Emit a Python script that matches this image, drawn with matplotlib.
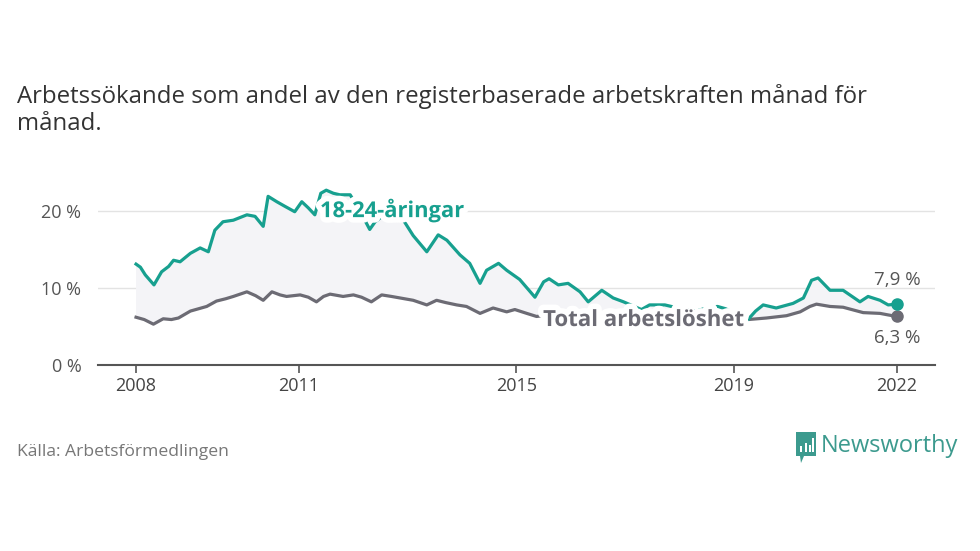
import numpy as np
import matplotlib.pyplot as plt
import matplotlib.patheffects as pe
from matplotlib.patches import Polygon, Rectangle

plt.rcParams['font.family'] = ['Open Sans', 'DejaVu Sans']

# youth (18-24) unemployment share, decimal year / percent
youth_x = [2008.00, 2008.08, 2008.17, 2008.33, 2008.47, 2008.60, 2008.69, 2008.81,
           2009.00, 2009.18, 2009.33, 2009.45, 2009.60, 2009.79, 2010.04, 2010.19,
           2010.34, 2010.43, 2010.59, 2010.74, 2010.92, 2011.05, 2011.17, 2011.29,
           2011.40, 2011.50, 2011.63, 2011.75, 2011.94, 2012.08, 2012.21, 2012.30,
           2012.40, 2012.55, 2012.70, 2012.92, 2013.10, 2013.35, 2013.56, 2013.72,
           2013.96, 2014.14, 2014.33, 2014.45, 2014.67, 2014.82, 2015.06, 2015.34,
           2015.50, 2015.60, 2015.77, 2015.95, 2016.17, 2016.32, 2016.57, 2016.78,
           2016.97, 2017.30, 2017.45, 2017.73, 2017.85, 2018.05, 2018.30, 2018.55,
           2018.70, 2018.85, 2019.05, 2019.26, 2019.40, 2019.54, 2019.78, 2020.09,
           2020.28, 2020.43, 2020.55, 2020.77, 2021.01, 2021.32, 2021.47, 2021.69,
           2021.84, 2022.00]
youth_y = [13.1, 12.7, 11.7, 10.4, 12.1, 12.8, 13.6, 13.4,
           14.5, 15.2, 14.7, 17.5, 18.6, 18.8, 19.5, 19.3,
           18.0, 21.9, 21.2, 20.6, 19.9, 21.2, 20.4, 19.5,
           22.3, 22.7, 22.3, 22.1, 22.1, 20.5, 18.8, 17.6,
           18.6, 19.4, 19.6, 18.8, 16.8, 14.7, 16.9, 16.2,
           14.3, 13.2, 10.6, 12.3, 13.2, 12.3, 11.1, 8.8,
           10.8, 11.2, 10.4, 10.6, 9.5, 8.2, 9.7, 8.7,
           8.2, 7.2, 7.8, 7.8, 7.6, 7.3, 7.0, 7.5,
           7.6, 7.3, 6.6, 5.9, 7.0, 7.8, 7.4, 8.0,
           8.7, 11.0, 11.3, 9.7, 9.7, 8.2, 8.9, 8.4,
           7.8, 7.9]

# total unemployment
total_x = [2008.00, 2008.15, 2008.32, 2008.50, 2008.65, 2008.78, 2009.00, 2009.15,
           2009.30, 2009.48, 2009.65, 2009.79, 2010.04, 2010.20, 2010.34, 2010.50,
           2010.65, 2010.77, 2011.02, 2011.17, 2011.32, 2011.45, 2011.57, 2011.81,
           2012.00, 2012.15, 2012.33, 2012.52, 2012.70, 2012.86, 2013.10, 2013.35,
           2013.53, 2013.70, 2013.90, 2014.08, 2014.33, 2014.57, 2014.82, 2014.97,
           2015.19, 2015.37, 2015.70, 2016.00, 2016.40, 2016.80, 2017.20, 2017.60,
           2018.00, 2018.40, 2018.80, 2019.26, 2019.60, 2019.97, 2020.22, 2020.40,
           2020.52, 2020.77, 2021.01, 2021.38, 2021.69, 2021.84, 2022.00]
total_y = [6.2, 5.9, 5.3, 6.0, 5.9, 6.1, 7.0, 7.3,
           7.6, 8.3, 8.6, 8.9, 9.5, 9.0, 8.4, 9.5,
           9.1, 8.9, 9.1, 8.8, 8.2, 8.9, 9.2, 8.9,
           9.1, 8.8, 8.2, 9.1, 8.9, 8.7, 8.4, 7.8,
           8.4, 8.1, 7.8, 7.6, 6.7, 7.4, 6.9, 7.2,
           6.7, 6.3, 6.6, 6.4, 6.2, 6.4, 6.1, 6.2,
           6.0, 6.1, 6.0, 5.9, 6.1, 6.4, 6.9, 7.6,
           7.9, 7.6, 7.5, 6.8, 6.7, 6.5, 6.3]

year_ticks = [2008, 2011, 2015, 2019, 2022]
pct_ticks = [0, 10, 20]

GREEN = '#17a08f'
GREY = '#6c6b74'
TXT = '#555555'

fig = plt.figure(figsize=(9.8, 5.51), dpi=100)
ax = fig.add_axes([0.1, 0.3376, 0.854, 0.3494])

# light band between the two series
ax.fill(np.r_[youth_x, total_x[::-1]], np.r_[youth_y, total_y[::-1]],
        color='#f4f4f7', lw=0, zorder=1)
ax.plot(total_x, total_y, color=GREY, lw=2.3, zorder=3, solid_joinstyle='round')
ax.plot(youth_x, youth_y, color=GREEN, lw=2.3, zorder=3, solid_joinstyle='round')
ax.plot(total_x[-1], total_y[-1], 'o', color=GREY, ms=8, zorder=4)
ax.plot(youth_x[-1], youth_y[-1], 'o', color=GREEN, ms=8, zorder=4)

ax.set_xlim(2007.30, 2022.70)
ax.set_ylim(0, 25)
ax.set_xticks(year_ticks)
ax.set_xticklabels([str(y) for y in year_ticks])
ax.set_yticks(pct_ticks)
ax.set_yticklabels([f'{p} %' for p in pct_ticks])
ax.grid(axis='y', color='#e3e3e3', lw=1)
ax.set_axisbelow(True)
for s in ['top', 'right', 'left']:
    ax.spines[s].set_visible(False)
ax.spines['bottom'].set_color('#555555')
ax.spines['bottom'].set_linewidth(1.5)
ax.tick_params(axis='x', length=6, width=1.2, color='#555555', labelsize=13,
               labelcolor='#444444', pad=3)
ax.tick_params(axis='y', length=0, labelsize=13, labelcolor=TXT, pad=12)

halo = [pe.withStroke(linewidth=8, foreground='white')]
ax.text(2011.385, 19.2, '18-24-åringar', color=GREEN, fontsize=15.8, fontweight='bold',
        va='baseline', ha='left', path_effects=halo, zorder=5)
ax.text(2015.49, 5.06, 'Total arbetslöshet', color=GREY, fontsize=16, fontweight='bold',
        va='baseline', ha='left', path_effects=halo, zorder=5)
ax.text(youth_x[-1], 11.0, '7,9 %', color=TXT, fontsize=13.5, ha='center', va='center')
ax.text(total_x[-1], 3.5, '6,3 %', color=TXT, fontsize=13.5, ha='center', va='center')

fig.text(0.017, 0.848, 'Arbetssökande som andel av den registerbaserade arbetskraften månad för\nmånad.',
         fontsize=17.3, color='#333333', ha='left', va='top', linespacing=1.2)
fig.text(0.017, 0.18, 'Källa: Arbetsförmedlingen', fontsize=12.6, color='#777777',
         ha='left', va='center')
fig.text(0.838, 0.191, 'Newsworthy', fontsize=17, color='#3c9a8e', ha='left', va='center')

# small logo mark
lg = fig.add_axes([796 / 980, (551 - 463) / 551, 20 / 980, 31 / 551])
lg.set_xlim(0, 20)
lg.set_ylim(0, 31)
lg.axis('off')
lg.add_patch(Polygon([[0, 7], [0, 31], [20, 31], [20, 7], [8, 7], [5, 0], [4, 7]],
                     closed=True, color='#3c9a8e', lw=0))
for bx, bh in [(4, 6), (8.5, 9), (13, 7), (16, 14)]:
    lg.add_patch(Rectangle((bx, 11), 2, bh, color='white', lw=0))

fig.savefig('out.png', dpi=100, facecolor='white')
